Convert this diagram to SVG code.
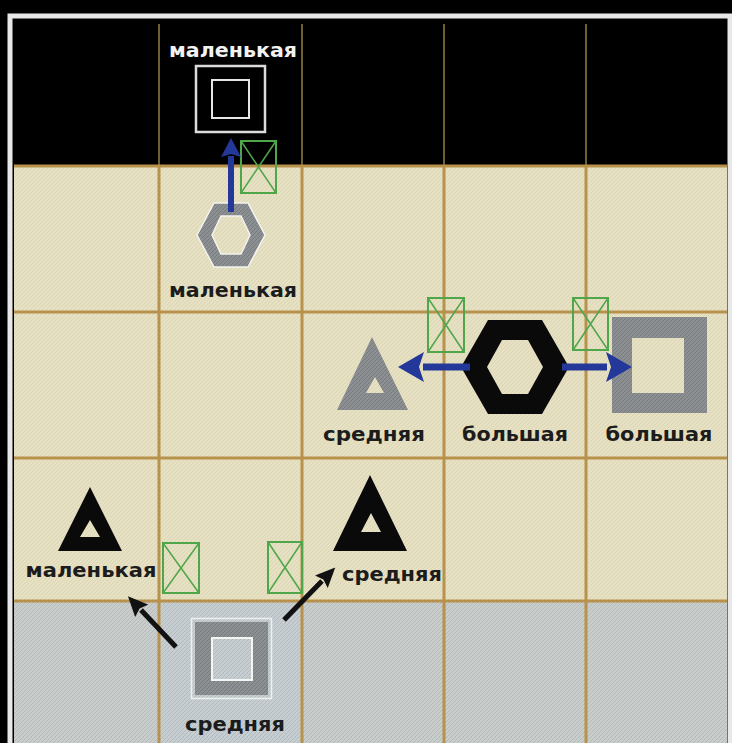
<svg xmlns="http://www.w3.org/2000/svg" width="732" height="743" viewBox="0 0 732 743">
<defs>
<pattern id="beige" patternUnits="userSpaceOnUse" width="4" height="4"><rect width="4" height="4" fill="#e6e1c3"/><path d="M0,4 L4,0" stroke="#d8d2b2" stroke-width="0.8"/></pattern>
<pattern id="grey" patternUnits="userSpaceOnUse" width="4" height="4"><rect width="4" height="4" fill="#c9cdcb"/><path d="M0,4 L4,0" stroke="#b2b7b7" stroke-width="0.9"/></pattern>
<pattern id="greyblue" patternUnits="userSpaceOnUse" width="4" height="4"><rect width="4" height="4" fill="#c6ced2"/><path d="M0,4 L4,0" stroke="#b0b8bc" stroke-width="0.9"/></pattern>
<pattern id="shape" patternUnits="userSpaceOnUse" width="4" height="4"><rect width="4" height="4" fill="#8d9093"/><path d="M0,4 L4,0" stroke="#777a7d" stroke-width="1"/></pattern>
<marker id="blueBig" viewBox="0 0 26 30" markerWidth="26" markerHeight="30" refX="1" refY="15" orient="auto" markerUnits="userSpaceOnUse"><path d="M0,0 L26,15 L0,30 L5,15 Z" fill="#24389a"/></marker>
<marker id="blueSmall" viewBox="0 0 19 20" markerWidth="19" markerHeight="20" refX="1" refY="10" orient="auto" markerUnits="userSpaceOnUse"><path d="M0,0 L19,10 L0,20 L3,10 Z" fill="#24389a"/></marker>
<marker id="blackHead" viewBox="0 0 20 18" markerWidth="20" markerHeight="18" refX="1" refY="9" orient="auto" markerUnits="userSpaceOnUse"><path d="M0,0 L20,9 L0,18 L3,9 Z" fill="#111"/></marker>
<style>
.lbl{font-family:"DejaVu Sans","Liberation Sans",sans-serif;font-weight:bold;font-size:19px;text-anchor:middle;fill:#1c1c1c}
.lblw{fill:#f2f2f2}
.grid{stroke:#b8924c;stroke-width:3}
.gridd{stroke:#6e6030;stroke-width:2}
.xbox rect{fill:none;stroke:#4fa64b;stroke-width:2}
.xbox path{fill:none;stroke:#4fa64b;stroke-width:1.5}
.blue{stroke:#24389a;fill:none}
.blk{stroke:#111;stroke-width:5;fill:none}
</style>
</defs>
<rect width="732" height="743" fill="#000"/>
<g id="board">
<rect x="10" y="16" width="720" height="740" fill="none" stroke="#e8e8e8" stroke-width="5"/>
<rect x="14" y="24" width="713" height="142" fill="#000"/>
<rect x="14" y="166" width="713" height="436" fill="url(#beige)"/>
<rect x="14" y="602" width="713" height="141" fill="url(#grey)"/>
<rect x="160" y="602" width="142" height="141" fill="url(#greyblue)"/>
<line class="gridd" x1="159" y1="24" x2="159" y2="166"/>
<line class="gridd" x1="302" y1="24" x2="302" y2="166"/>
<line class="gridd" x1="444" y1="24" x2="444" y2="166"/>
<line class="gridd" x1="586" y1="24" x2="586" y2="166"/>
<line class="grid" x1="159" y1="166" x2="159" y2="743"/>
<line class="grid" x1="302" y1="166" x2="302" y2="743"/>
<line class="grid" x1="444" y1="166" x2="444" y2="743"/>
<line class="grid" x1="586" y1="166" x2="586" y2="743"/>
<line class="grid" x1="14" y1="166" x2="727" y2="166"/>
<line class="grid" x1="14" y1="312" x2="727" y2="312"/>
<line class="grid" x1="14" y1="458" x2="727" y2="458"/>
<line class="grid" x1="14" y1="601" x2="727" y2="601"/>
</g>
<g id="markers" class="xbox">
<g id="x1"><rect x="241" y="141" width="35" height="52"/><path d="M241,141 L276,193 M276,141 L241,193"/></g>
<g id="x2"><rect x="428" y="298" width="36" height="54"/><path d="M428,298 L464,352 M464,298 L428,352"/></g>
<g id="x3"><rect x="573" y="298" width="35" height="52"/><path d="M573,298 L608,350 M608,298 L573,350"/></g>
<g id="x4"><rect x="163" y="543" width="36" height="50"/><path d="M163,543 L199,593 M199,543 L163,593"/></g>
<g id="x5"><rect x="268" y="542" width="34" height="51"/><path d="M268,542 L302,593 M302,542 L268,593"/></g>
</g>
<g id="n-top-square">
<rect x="196" y="66" width="69" height="66" fill="none" stroke="#dcdcdc" stroke-width="2.5"/>
<rect x="212" y="80" width="37" height="38" fill="none" stroke="#e6e6e6" stroke-width="2"/>
<text class="lbl lblw" x="233" y="57" textLength="128" lengthAdjust="spacingAndGlyphs">маленькая</text>
</g>
<g id="n-grey-hex">
<path d="M197,235 L214,203 L248,203 L265,235 L248,267 L214,267 Z M212,235 L221,216 L241,216 L250,235 L241,254 L221,254 Z" fill="url(#shape)" fill-rule="evenodd" stroke="#f4f4ee" stroke-width="1.5"/>
<text class="lbl" x="233" y="297" textLength="128" lengthAdjust="spacingAndGlyphs">маленькая</text>
</g>
<g id="n-grey-tri">
<path d="M372,337 L337,410 L408,410 Z M375,377 L366,393 L384,393 Z" fill="url(#shape)" fill-rule="evenodd"/>
<text class="lbl" x="374" y="441" textLength="102" lengthAdjust="spacingAndGlyphs">средняя</text>
</g>
<g id="n-black-hex">
<path d="M461,367 L488,320 L542,320 L569,367 L542,414 L488,414 Z M487,367 L502,340 L528,340 L543,367 L528,394 L502,394 Z" fill="#0a0a0a" fill-rule="evenodd"/>
<text class="lbl" x="515" y="441" textLength="106" lengthAdjust="spacingAndGlyphs">большая</text>
</g>
<g id="n-grey-square">
<path d="M612,317 H707 V413 H612 Z M632,338 V393 H684 V338 Z" fill="url(#shape)" fill-rule="evenodd"/>
<text class="lbl" x="659" y="441" textLength="107" lengthAdjust="spacingAndGlyphs">большая</text>
</g>
<g id="n-black-tri-small">
<path d="M90,487 L58,551 L122,551 Z M90,520 L80,537 L100,537 Z" fill="#0a0a0a" fill-rule="evenodd"/>
<text class="lbl" x="91" y="577" textLength="131" lengthAdjust="spacingAndGlyphs">маленькая</text>
</g>
<g id="n-black-tri-mid">
<path d="M370,475 L333,551 L407,551 Z M371,513 L361,532 L381,532 Z" fill="#0a0a0a" fill-rule="evenodd"/>
<text class="lbl" x="392" y="581" textLength="100" lengthAdjust="spacingAndGlyphs">средняя</text>
</g>
<g id="n-bottom-square">
<rect x="191.5" y="618.5" width="80" height="80" fill="none" stroke="#eef0ee" stroke-width="1.5"/>
<path d="M195,622 H268 V695 H195 Z M212,638 V680 H252 V638 Z" fill="url(#shape)" fill-rule="evenodd"/>
<rect x="212" y="638" width="40" height="42" fill="none" stroke="#f4f6f4" stroke-width="2"/>
<text class="lbl" x="235" y="731" textLength="100" lengthAdjust="spacingAndGlyphs">средняя</text>
</g>
<g id="connectors">
<line class="blue" x1="231" y1="212" x2="231" y2="156" stroke-width="6" marker-end="url(#blueSmall)"/>
<line class="blue" x1="470" y1="367" x2="423" y2="367" stroke-width="7" marker-end="url(#blueBig)"/>
<line class="blue" x1="562" y1="367" x2="607" y2="367" stroke-width="7" marker-end="url(#blueBig)"/>
<line class="blk" x1="176" y1="647" x2="141" y2="610" marker-end="url(#blackHead)"/>
<line class="blk" x1="284" y1="620" x2="322" y2="581" marker-end="url(#blackHead)"/>
</g>
</svg>
